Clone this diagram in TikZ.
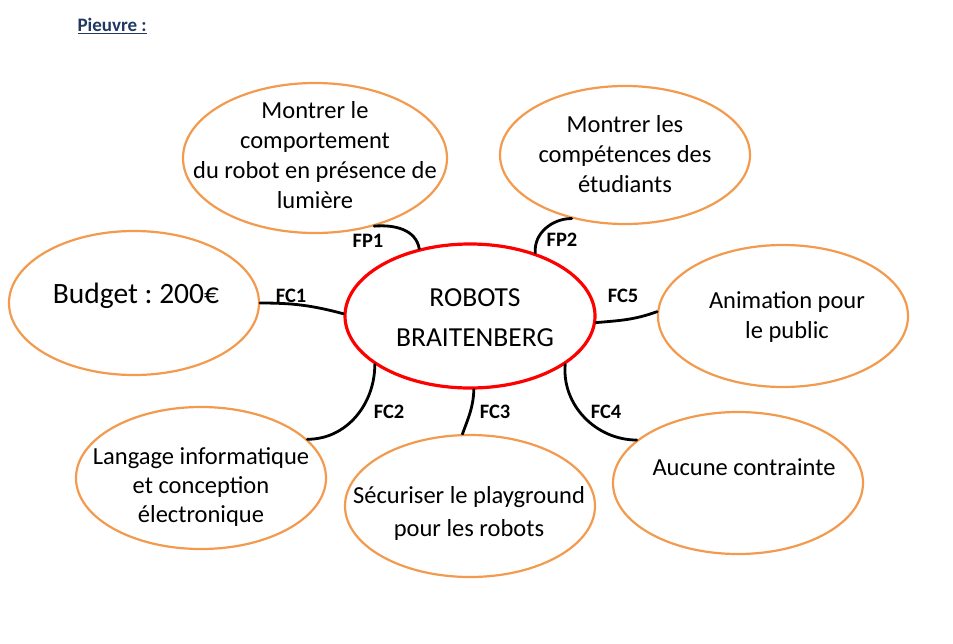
\documentclass[tikz,border=0pt]{standalone}
\usepackage{fontspec}
\setmainfont{Carlito}
\usetikzlibrary{shapes.geometric}
\definecolor{orng}{RGB}{242,154,78}
\definecolor{ttl}{RGB}{31,56,100}
\frenchspacing
\begin{document}
\begin{tikzpicture}[x=1pt,y=-1pt,
  ell/.style={draw=orng,line width=2.2pt,ellipse,minimum width=250pt,minimum height=142pt,inner sep=0pt},
  txt/.style={align=center,font=\fontsize{24.5}{30}\selectfont},
  lbl/.style={font=\fontsize{20.5}{22}\selectfont\bfseries},
  con/.style={line width=2.8pt,line cap=round}]
\useasboundingbox (0,0) rectangle (953,643);
\node[anchor=west,text=ttl,font=\fontsize{19}{20}\selectfont\bfseries] (title) at (74,26) {\underline{Pieuvre :}};
% ellipses
\node[ell,draw=red,line width=3.2pt,minimum height=144pt] (c) at (470,316) {};
\node[ell,minimum width=264pt,minimum height=150pt] (fp1) at (315,158) {};
\node[ell,minimum height=138pt] (fp2) at (625,155) {};
\node[ell,minimum height=144pt] (bud) at (134,303) {};
\node[ell] (ani) at (783,316) {};
\node[ell] (lan) at (201,478) {};
\node[ell] (sec) at (470,506) {};
\node[ell] (auc) at (738,483) {};
% texts
\node[txt] (tfp1) at (315,155) {Montrer le\\comportement\\du robot en présence de\\lumière};
\node[txt] (tfp2) at (625,154) {Montrer les\\compétences des\\étudiants};
\node[txt,font=\fontsize{29.5}{30}\selectfont] (tbud) at (136,296) {Budget : 200€};
\node[txt,font=\fontsize{27.5}{40}\selectfont] (tc) at (475,318) {ROBOTS\\BRAITENBERG};
\node[txt] (tani) at (787,317) {Animation pour\\le public};
\node[txt,font=\fontsize{24.5}{29}\selectfont] (tlan) at (201,487) {Langage informatique\\et conception\\électronique};
\node[txt,font=\fontsize{24.5}{33}\selectfont] (tsec) at (469,513) {Sécuriser le playground\\pour les robots};
\node[txt] (tauc) at (744,467) {Aucune contrainte};
% connectors
\draw[con] (fp1.-49.5) to[out=5,in=100] (c.127.4);
\draw[con] (c.44) to[out=95,in=180] (fp2.230);
\draw[con] (bud.0) to[out=0,in=165] (c.179.5);
\draw[con] (c.-3.7) to[out=5,in=200] (ani.178);
\draw[con] (c.207) to[out=-90,in=0] (lan.20);
\draw[con] (c.-87) to[out=-92,in=70] (sec.96.6);
\draw[con] (c.-27) to[out=-95,in=180] (auc.157.7);
% labels
\node[lbl] (l1) at (368,241) {FP1};
\node[lbl] (l2) at (562,240) {FP2};
\node[lbl] (l3) at (291,296) {FC1};
\node[lbl] (l4) at (623,296) {FC5};
\node[lbl] (l5) at (389,412) {FC2};
\node[lbl] (l6) at (495,412) {FC3};
\node[lbl] (l7) at (606,412) {FC4};
\end{tikzpicture}
\end{document}
